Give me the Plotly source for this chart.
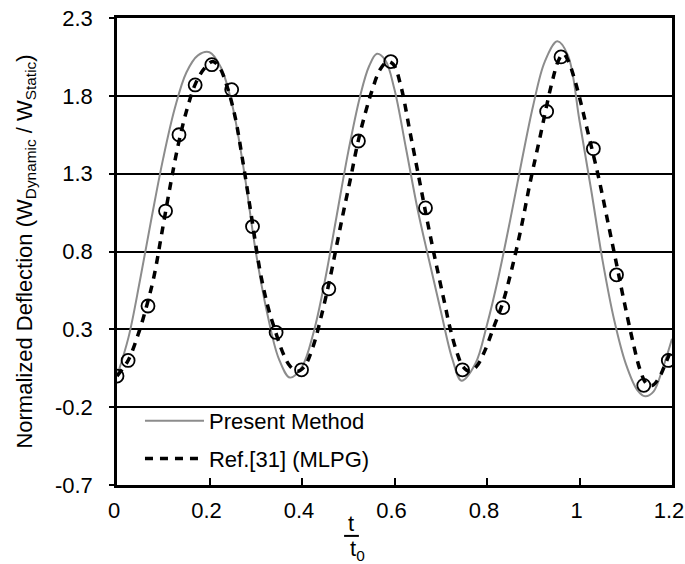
import plotly.graph_objects as go

# ---- data ----
t_present = [0.0, 0.025, 0.05, 0.075, 0.1, 0.125, 0.15, 0.175, 0.2, 0.225, 0.25, 0.275, 0.3, 0.325,
             0.35, 0.374, 0.4, 0.425, 0.45, 0.475, 0.5, 0.525, 0.545, 0.562, 0.58, 0.6, 0.625, 0.65,
             0.675, 0.7, 0.725, 0.745, 0.775, 0.8, 0.825, 0.85, 0.875, 0.9, 0.925, 0.952, 0.975,
             1.0, 1.025, 1.05, 1.075, 1.1, 1.125, 1.142, 1.16, 1.18, 1.2]
w_present = [0.0, 0.25, 0.62, 1.02, 1.40, 1.72, 1.95, 2.06, 2.08, 1.98, 1.73, 1.31, 0.80, 0.40,
             0.11, -0.01, 0.06, 0.28, 0.62, 1.03, 1.44, 1.79, 1.99, 2.07, 2.03, 1.84, 1.46, 1.07,
             0.74, 0.42, 0.11, -0.03, 0.08, 0.33, 0.64, 1.00, 1.38, 1.74, 2.02, 2.15, 2.06,
             1.64, 1.20, 0.74, 0.36, 0.08, -0.09, -0.13, -0.10, 0.05, 0.24]

t_mlpg = [0.0, 0.024, 0.046, 0.065, 0.08, 0.097, 0.115, 0.132, 0.15, 0.17, 0.19, 0.207, 0.222,
          0.238, 0.255, 0.272, 0.29, 0.309, 0.325, 0.34, 0.36, 0.375, 0.39, 0.405, 0.424, 0.443,
          0.46, 0.475, 0.49, 0.505, 0.52, 0.536, 0.551, 0.569, 0.585, 0.598, 0.614, 0.634, 0.655,
          0.672, 0.69, 0.709, 0.72, 0.734, 0.748, 0.762, 0.777, 0.795, 0.814, 0.834, 0.853, 0.873,
          0.893, 0.915, 0.94, 0.955, 0.965, 0.975, 0.988, 1.0, 1.017, 1.041, 1.062, 1.08, 1.095,
          1.117, 1.131, 1.145, 1.158, 1.174, 1.186, 1.2]
w_mlpg = [0.0, 0.10, 0.27, 0.46, 0.64, 0.92, 1.22, 1.48, 1.70, 1.88, 1.98, 2.02, 1.98,
          1.86, 1.67, 1.38, 1.04, 0.68, 0.46, 0.31, 0.14, 0.06, 0.03, 0.06, 0.19, 0.40,
          0.62, 0.84, 1.06, 1.27, 1.49, 1.68, 1.83, 1.97, 2.02, 2.00, 1.86, 1.56, 1.24,
          0.98, 0.72, 0.46, 0.31, 0.16, 0.06, 0.03, 0.06, 0.16, 0.31, 0.47, 0.68, 0.94,
          1.24, 1.54, 1.88, 2.03, 2.07, 2.03, 1.92, 1.79, 1.58, 1.28, 0.98, 0.72, 0.50,
          0.20, 0.04, -0.05, -0.06, 0.00, 0.08, 0.18]

t_points = [0.0, 0.024, 0.067, 0.105, 0.134, 0.169, 0.205, 0.248, 0.293, 0.344, 0.399, 0.458,
            0.522, 0.592, 0.667, 0.747, 0.834, 0.929, 0.960, 1.030, 1.080, 1.139, 1.192]
w_points = [0.0, 0.10, 0.45, 1.06, 1.55, 1.87, 2.00, 1.84, 0.96, 0.28, 0.04, 0.56,
            1.51, 2.02, 1.08, 0.04, 0.44, 1.70, 2.05, 1.46, 0.65, -0.06, 0.10]

x_ticks = [0, 0.2, 0.4, 0.6, 0.8, 1.0, 1.2]
x_tick_labels = ["0", "0.2", "0.4", "0.6", "0.8", "1", "1.2"]
y_ticks = [-0.7, -0.2, 0.3, 0.8, 1.3, 1.8, 2.3]
y_tick_labels = ["-0.7", "-0.2", "0.3", "0.8", "1.3", "1.8", "2.3"]

FONT = "Liberation Sans, Arial, sans-serif"

fig = go.Figure()
fig.add_trace(go.Scatter(
    x=t_present, y=w_present, mode="lines", name="Present Method", legendgroup="a",
    line=dict(color="#8c8c8c", width=2, shape="spline", smoothing=1.0)))
fig.add_trace(go.Scatter(
    x=t_mlpg, y=w_mlpg, mode="lines", name="Ref.[31] (MLPG)", legendgroup="b",
    line=dict(color="black", width=3.5, dash="8px,7px", shape="spline", smoothing=1.0)))
fig.add_trace(go.Scatter(
    x=t_points, y=w_points, mode="markers", showlegend=False,
    marker=dict(symbol="circle-open", size=13, color="black", line=dict(width=1.8))))

fig.update_layout(
    width=685, height=564,
    margin=dict(l=117, r=13, t=18, b=79),
    paper_bgcolor="white", plot_bgcolor="white",
    font=dict(family=FONT, size=22, color="black"),
    showlegend=True,
    legend=dict(x=0.0414, y=0.182, xanchor="left", yanchor="top",
                bgcolor="rgba(0,0,0,0)", font=dict(size=22, family=FONT),
                itemwidth=59, tracegroupgap=6, traceorder="grouped"),
)

fig.update_xaxes(
    range=[0, 1.2], tickmode="array", tickvals=x_ticks, ticktext=x_tick_labels,
    showgrid=False, zeroline=False, showline=True, mirror=True, automargin=False,
    linecolor="black", linewidth=2.5, ticks="inside", ticklen=7, tickwidth=1.5,
    tickcolor="black", tickfont=dict(size=22, family=FONT), ticklabelstandoff=4,
    ticklabelshift=-3, ticklabeloverflow="allow")
fig.update_yaxes(
    range=[-0.7, 2.3], tickmode="array", tickvals=y_ticks, ticktext=y_tick_labels,
    showgrid=True, gridcolor="black", gridwidth=1.8, zeroline=False, showline=True,
    mirror=True, automargin=False, linecolor="black", linewidth=2.5, ticks="outside",
    ticklen=5, tickwidth=1.5, tickcolor="black", tickfont=dict(size=22, family=FONT),
    ticklabelstandoff=12, ticklabeloverflow="allow",
    title=dict(text="Normalized Deflection (W<sub>Dynamic</sub> / W<sub>Static</sub>)",
               font=dict(size=22, family=FONT), standoff=17))

# x-axis title drawn as the fraction t / t0
fig.add_annotation(x=0.507, xref="x", y=-0.0835, yref="paper", text="t", showarrow=False,
                   font=dict(size=22, family=FONT), xanchor="center", yanchor="middle")
fig.add_shape(type="line", xref="x", yref="paper", x0=0.491, x1=0.523, y0=-0.109, y1=-0.109,
              line=dict(color="black", width=2))
fig.add_annotation(x=0.499, xref="x", y=-0.139, yref="paper", text="t<sub>0</sub>", showarrow=False,
                   font=dict(size=22, family=FONT), xanchor="left", yanchor="middle")

fig.write_html("out.html", config={"displayModeBar": False},
               post_script="document.body.style.margin='0';")
